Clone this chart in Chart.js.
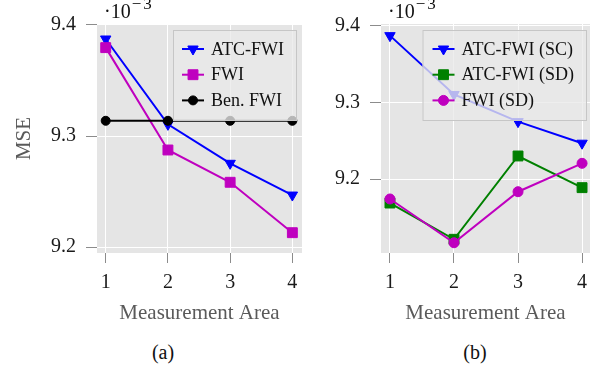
<!DOCTYPE html>
<html lang="en">
<head>
  <meta charset="UTF-8">
  <title>MSE vs Measurement Area</title>
  <script src="https://cdn.jsdelivr.net/npm/chart.js"></script>
  <style>
* { margin: 0; padding: 0; }

body {
  width: 598px;
  height: 370px;
  background: #fff;
  position: relative;
  overflow: hidden;
  font-family: 'Liberation Serif', serif;
}

canvas { position: absolute; top: 0; }
#chartA { left: 0; }
#chartB { left: 310px; }

.caption {
  position: absolute;
  top: 340px;
  width: 60px;
  line-height: 24px;
  text-align: center;
  font-size: 20px;
  color: #111;
}
  </style>
</head>
<body>
  <canvas id="chartA" width="310" height="330"></canvas>
  <canvas id="chartB" width="288" height="330"></canvas>
  <div class="caption" style="left: 133px;">(a)</div>
  <div class="caption" style="left: 445px;">(b)</div>
  <script>
const areas = [1, 2, 3, 4];
const yTicks = [9.2, 9.3, 9.4];

// panel (a)
const labelsA = ['ATC-FWI', 'FWI', 'Ben. FWI'];
const atcFwi = [9.3874, 9.3105, 9.2754, 9.2468];
const fwi = [9.3796, 9.2874, 9.2583, 9.2129];
const benFwi = [9.3137, 9.3137, 9.3137, 9.3137];

// panel (b)
const labelsB = ['ATC-FWI (SC)', 'ATC-FWI (SD)', 'FWI (SD)'];
const atcFwiSC = [9.3874, 9.3105, 9.2750, 9.2468];
const atcFwiSD = [9.1686, 9.1212, 9.2301, 9.1887];
const fwiSD = [9.1739, 9.1167, 9.1834, 9.2205];

const FONT = "'Liberation Serif', serif";

function series(label, values, color, style, radius, rotation, idx) {
  return {
    label: label,
    data: areas.map((a, i) => ({ x: a, y: values[i] })),
    borderColor: color,
    backgroundColor: color,
    borderWidth: 2,
    tension: 0,
    pointStyle: style,
    pointRadius: radius,
    pointHoverRadius: radius,
    pointRotation: rotation || 0,
    pointBorderWidth: 1,
    order: 10 - idx // later series on top
  };
}

const plotBg = {
  id: 'plotBg',
  beforeDraw(chart) {
    const { ctx, chartArea: a } = chart;
    ctx.save();
    ctx.fillStyle = '#e5e5e5';
    ctx.fillRect(a.left, a.top, a.right - a.left, a.bottom - a.top);
    ctx.restore();
  }
};

// legend box inside the plot, semi transparent like pgfplots
const boxLegend = {
  id: 'boxLegend',
  afterDatasetsDraw(chart, args, opts) {
    const { ctx, chartArea: a } = chart;
    const sets = chart.data.datasets;
    ctx.save();
    ctx.font = '18px ' + FONT;
    const textW = Math.max(...sets.map(d => ctx.measureText(d.label).width));
    const w = opts.padLeft + 22 + 7 + textW + 13;
    const h = opts.height;
    const x = a.right - opts.right - w;
    const y = a.top + 6;
    ctx.fillStyle = 'rgba(233,233,233,0.78)';
    ctx.fillRect(x, y, w, h);
    ctx.strokeStyle = '#c6c6c6';
    ctx.lineWidth = 1;
    ctx.strokeRect(x + 0.5, y + 0.5, w - 1, h - 1);
    sets.forEach((d, i) => {
      const cy = y + 19 + i * 25.7;
      const lx = x + opts.padLeft;
      ctx.strokeStyle = d.borderColor;
      ctx.fillStyle = d.backgroundColor;
      ctx.lineWidth = 2;
      ctx.beginPath();
      ctx.moveTo(lx, cy);
      ctx.lineTo(lx + 22, cy);
      ctx.stroke();
      ctx.lineWidth = 1;
      Chart.helpers.drawPoint(ctx, {
        pointStyle: d.pointStyle,
        radius: d.pointRadius,
        rotation: d.pointRotation,
        borderWidth: 1
      }, lx + 11, cy);
      ctx.fillStyle = '#111';
      ctx.textBaseline = 'middle';
      ctx.fillText(d.label, lx + 29, cy + 1);
    });
    ctx.restore();
  }
};

const expLabel = {
  id: 'expLabel',
  afterDraw(chart) {
    const { ctx, chartArea: a } = chart;
    ctx.save();
    ctx.fillStyle = '#111';
    ctx.textBaseline = 'alphabetic';
    ctx.font = '20px ' + FONT;
    let x = a.left + 7;
    const y = a.top - 6;
    ctx.fillText('·10', x, y);
    x += ctx.measureText('·10').width + 1;
    ctx.font = '17px ' + FONT;
    ctx.fillText('\u2212', x, y - 9);
    x += ctx.measureText('\u2212').width + 2;
    ctx.fillText('3', x, y - 9);
    ctx.restore();
  }
};

function makeScales(yMin, yMax, xMax, yWidth, yTitle) {
  return {
    x: {
      type: 'linear',
      min: 0.86,
      max: xMax,
      afterBuildTicks: s => { s.ticks = areas.map(v => ({ value: v })); },
      afterFit: s => { s.height = 77; },
      border: { display: false },
      grid: { color: '#ffffff', lineWidth: 1, tickLength: 10, tickColor: '#8c8c8c', tickWidth: 1 },
      ticks: { padding: 8, color: '#1a1a1a', font: { family: FONT, size: 20 }, callback: v => String(v) },
      title: { display: true, text: 'Measurement Area', color: '#5a5a5a', font: { family: FONT, size: 21 }, padding: { top: 0, bottom: 4 } }
    },
    y: {
      type: 'linear',
      min: yMin,
      max: yMax,
      afterBuildTicks: s => { s.ticks = yTicks.map(v => ({ value: v })); },
      afterFit: s => { s.width = yWidth; },
      border: { display: false },
      grid: { color: '#ffffff', lineWidth: 1, tickLength: 11, tickColor: '#8c8c8c', tickWidth: 1 },
      ticks: { padding: 10, color: '#1a1a1a', font: { family: FONT, size: 20 }, callback: v => v.toFixed(1) },
      title: { display: !!yTitle, text: yTitle || '', color: '#5a5a5a', font: { family: FONT, size: 21 }, padding: { top: 12, bottom: 0 } }
    }
  };
}

function makeChart(id, datasets, scales, pad, legendOpts) {
  return new Chart(document.getElementById(id), {
    type: 'line',
    data: { datasets: datasets },
    options: {
      responsive: false,
      animation: false,
      devicePixelRatio: 1,
      layout: { padding: pad },
      scales: scales,
      plugins: {
        legend: { display: false },
        tooltip: { enabled: false },
        boxLegend: legendOpts
      }
    },
    plugins: [plotBg, boxLegend, expLabel]
  });
}

makeChart('chartA', [
  series(labelsA[0], atcFwi, '#0000ff', 'triangle', 6, 180, 0),
  series(labelsA[1], fwi, '#bf00bf', 'rect', 7, 0, 1),
  series(labelsA[2], benFwi, '#000000', 'circle', 4.5, 0, 2)
], makeScales(9.1946, 9.4009, 4.155, 97, 'MSE'),
  { top: 24, right: 1, left: 0, bottom: 0 },
  { right: 5, padLeft: 9, height: 91 });

makeChart('chartB', [
  series(labelsB[0], atcFwiSC, '#0000ff', 'triangle', 6, 180, 0),
  series(labelsB[1], atcFwiSD, '#008000', 'rect', 7, 0, 1),
  series(labelsB[2], fwiSD, '#bf00bf', 'circle', 5, 0, 2)
], makeScales(9.1033, 9.4026, 4.124, 71, null),
  { top: 24, right: 7, left: 0, bottom: 0 },
  { right: 3, padLeft: 10, height: 91 });
  </script>
</body>
</html>
